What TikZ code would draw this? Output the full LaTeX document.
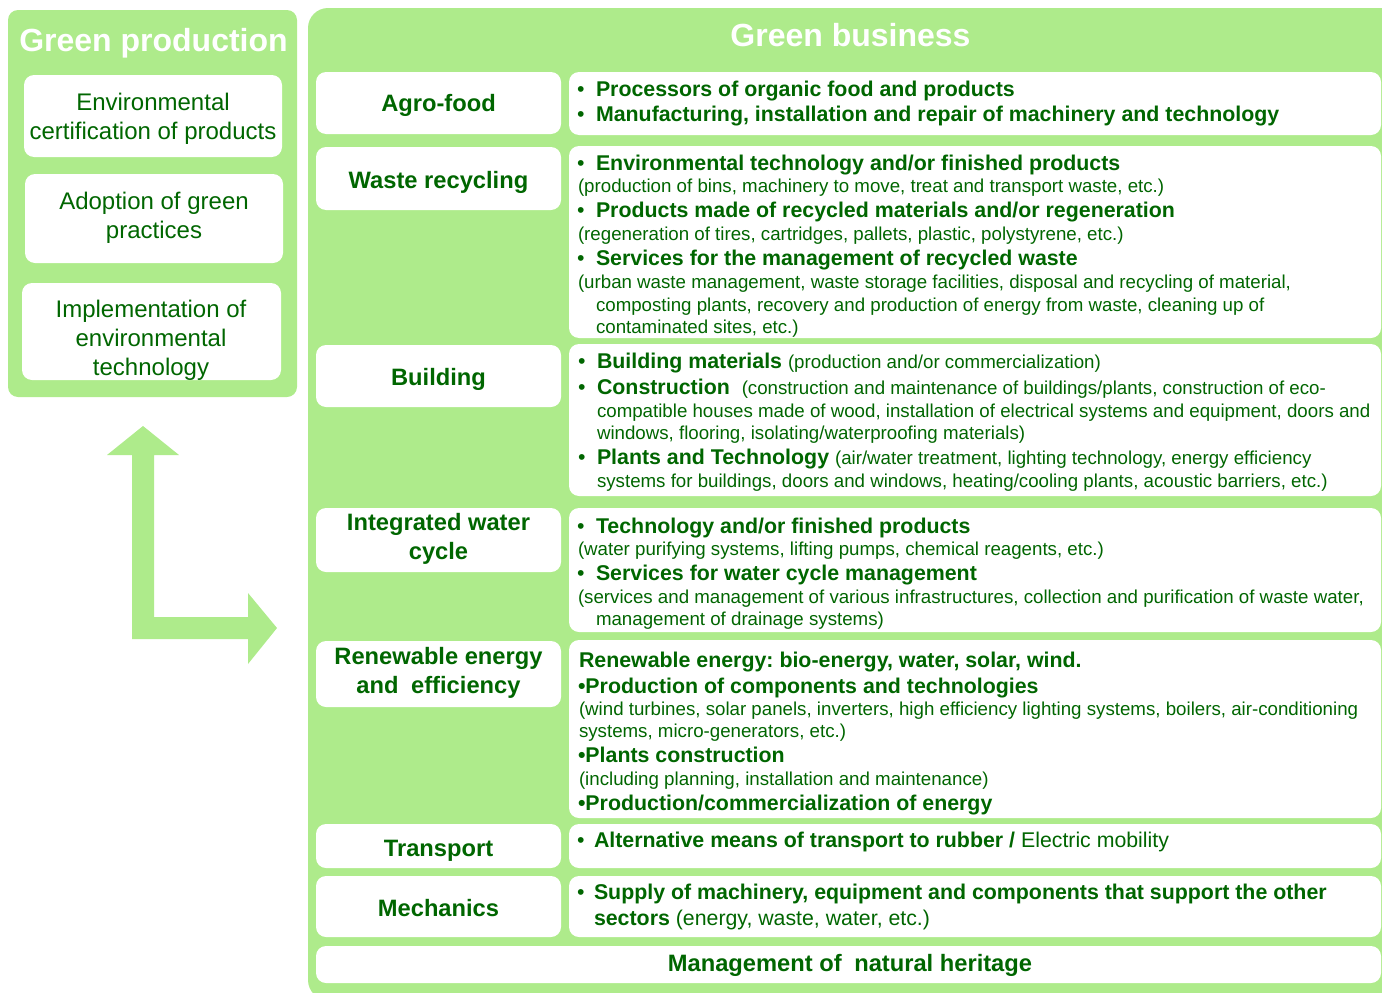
\documentclass[tikz,border=0pt]{standalone}
\usepackage{fontspec}
\setmainfont{Liberation Sans}
\frenchspacing
\definecolor{pgreen}{RGB}{174,235,139}
\definecolor{tgreen}{RGB}{0,102,0}
\newcommand\fB{\fontsize{21.35}{25}\selectfont\bfseries}
\newcommand\fR{\fontsize{18.7}{22}\selectfont\mdseries}
\newcommand\fRL{\fontsize{21.3}{25}\selectfont\mdseries}
\newcommand\fL{\fontsize{23.7}{28}\selectfont\bfseries}
\newcommand\fP{\fontsize{24}{29}\selectfont\mdseries}
\newcommand\fT{\fontsize{32}{38}\selectfont\bfseries}
\newcommand\bu{\makebox[19pt][l]{\mdseries •}}
\tikzset{
  panel/.style={fill=pgreen},
  wbox/.style={fill=white, rounded corners=10pt},
  tx/.style={anchor=base west, inner sep=0pt, outer sep=0pt, text=tgreen, font=\fB},
  tr/.style={tx, font=\fR},
  lab/.style={anchor=base, inner sep=0pt, outer sep=0pt, text=tgreen, font=\fL},
  ptx/.style={anchor=base, inner sep=0pt, outer sep=0pt, text=tgreen, font=\fP},
  ttl/.style={anchor=base, inner sep=0pt, outer sep=0pt, text=white, font=\fT}
}
\begin{document}
\begin{tikzpicture}[x=1pt,y=-1pt]
\useasboundingbox (0,0) rectangle (1382,993);
\clip (0,0) rectangle (1382,993);
% panels
\fill[panel, rounded corners=10pt] (8,10) rectangle (297,397);
\fill[panel, rounded corners=20pt] (308,8) rectangle (1420,1000);
% block arrow
\fill[pgreen] (143,426) -- (179,455) -- (154,455) -- (154,617) -- (248,617) -- (248,593)
  -- (277,628) -- (248,664) -- (248,639) -- (132,639) -- (132,455) -- (107,455) -- cycle;
% left panel boxes
\fill[wbox] (24,75) rectangle (282,157);
\fill[wbox] (25,174) rectangle (283,263);
\fill[wbox] (22,283) rectangle (281,380);
\node[ttl] (gp) at (153.5,51) {Green production};
\node[ptx] (p1a) at (153,110) {Environmental};
\node[ptx] (p1b) at (153,139) {certification of products};
\node[ptx] (p2a) at (154,209) {Adoption of green};
\node[ptx] (p2b) at (154,238) {practices};
\node[ptx] (p3a) at (151,317.5) {Implementation of};
\node[ptx] (p3b) at (151,346.5) {environmental};
\node[ptx] (p3c) at (151,375) {technology};
% right panel
\node[ttl] (gb) at (850.5,46.5) {Green business};
% sector boxes
\fill[wbox] (316,72) rectangle (561,134);
\fill[wbox] (569,72) rectangle (1381,135);
\fill[wbox] (316,147) rectangle (561,210);
\fill[wbox] (569,146) rectangle (1381,338);
\fill[wbox] (316,345) rectangle (561,407);
\fill[wbox] (569,344) rectangle (1381,496);
\fill[wbox] (316,508) rectangle (561,572);
\fill[wbox] (569,508) rectangle (1381,632);
\fill[wbox] (316,641) rectangle (561,707);
\fill[wbox] (569,640) rectangle (1381,818);
\fill[wbox] (316,824) rectangle (561,868);
\fill[wbox] (569,824) rectangle (1381,868);
\fill[wbox] (316,876) rectangle (561,937);
\fill[wbox] (569,876) rectangle (1381,937);
\fill[wbox] (316,946) rectangle (1381,983);
% sector labels
\node[lab] (sA) at (438.5,111.5) {Agro-food};
\node[lab] (sW) at (438.5,188) {Waste recycling};
\node[lab] (sB) at (438.5,385) {Building};
\node[lab] (sI1) at (438.5,530) {Integrated water};
\node[lab] (sI2) at (438.5,559) {cycle};
\node[lab] (sR1) at (438.5,664) {Renewable energy};
\node[lab] (sR2) at (438.5,693) {and\hspace{6pt} efficiency};
\node[lab] (sT) at (438.5,856) {Transport};
\node[lab] (sM) at (438.5,916) {Mechanics};
\node[lab] (sMg) at (850,971) {Management of\hspace{6pt} natural heritage};
% agro-food
\node[tx] (a1) at (577,96.5) {\bu Processors of organic food and products};
\node[tx] (a2) at (577,121.5) {\bu Manufacturing, installation and repair of machinery and technology};
% waste
\node[tx] (w1) at (577,170) {\bu Environmental technology and/or finished products};
\node[tr] (w2) at (578,192.5) {(production of bins, machinery to move, treat and transport waste, etc.)};
\node[tx] (w3) at (577,217.5) {\bu Products made of recycled materials and/or regeneration};
\node[tr] (w4) at (578,240.5) {(regeneration of tires, cartridges, pallets, plastic, polystyrene, etc.)};
\node[tx] (w5) at (577,265.5) {\bu Services for the management of recycled waste};
\node[tr] (w6) at (578,288.5) {(urban waste management, waste storage facilities, disposal and recycling of material,};
\node[tr] (w7) at (596,311.5) {composting plants, recovery and production of energy from waste, cleaning up of};
\node[tr] (w8) at (596,333.5) {contaminated sites, etc.)};
% building
\node[tx] (b1) at (578,368) {\bu Building materials {\fR (production and/or commercialization)}};
\node[tx] (b2) at (578,394) {\bu Construction\hspace{6pt} {\fR (construction and maintenance of buildings/plants, construction of eco-}};
\node[tr] (b3) at (597,417.5) {compatible houses made of wood, installation of electrical systems and equipment, doors and};
\node[tr] (b4) at (597,439.5) {windows, flooring, isolating/waterproofing materials)};
\node[tx] (b5) at (578,464.5) {\bu Plants and Technology {\fR (air/water treatment, lighting technology, energy efficiency}};
\node[tr] (b6) at (597,487.5) {systems for buildings, doors and windows, heating/cooling plants, acoustic barriers, etc.)};
% water
\node[tx] (i1) at (577,533.5) {\bu Technology and/or finished products};
\node[tr] (i2) at (578,555.5) {(water purifying systems, lifting pumps, chemical reagents, etc.)};
\node[tx] (i3) at (577,580.5) {\bu Services for water cycle management};
\node[tr] (i4) at (578,603.5) {(services and management of various infrastructures, collection and purification of waste water,};
\node[tr] (i5) at (596,625.5) {management of drainage systems)};
% renewable
\node[tx] (e1) at (579,667.5) {Renewable energy: bio-energy, water, solar, wind.};
\node[tx] (e2) at (578,693.5) {•Production of components and technologies};
\node[tr] (e3) at (579,715.5) {(wind turbines, solar panels, inverters, high efficiency lighting systems, boilers, air-conditioning};
\node[tr] (e4) at (579,737.5) {systems, micro-generators, etc.)};
\node[tx] (e5) at (578,762.5) {•Plants construction};
\node[tr] (e6) at (579,785.5) {(including planning, installation and maintenance)};
\node[tx] (e7) at (578,810.5) {•Production/commercialization of energy};
% transport
\node[tx] (t1) at (577,847.5) {\makebox[17pt][l]{\mdseries •}Alternative means of transport to rubber / {\fRL Electric mobility}};
% mechanics
\node[tx] (m1) at (577,899.5) {\makebox[17pt][l]{\mdseries •}Supply of machinery, equipment and components that support the other};
\node[tx] (m2) at (594,925.5) {sectors {\fRL (energy, waste, water, etc.)}};
\end{tikzpicture}
\end{document}
